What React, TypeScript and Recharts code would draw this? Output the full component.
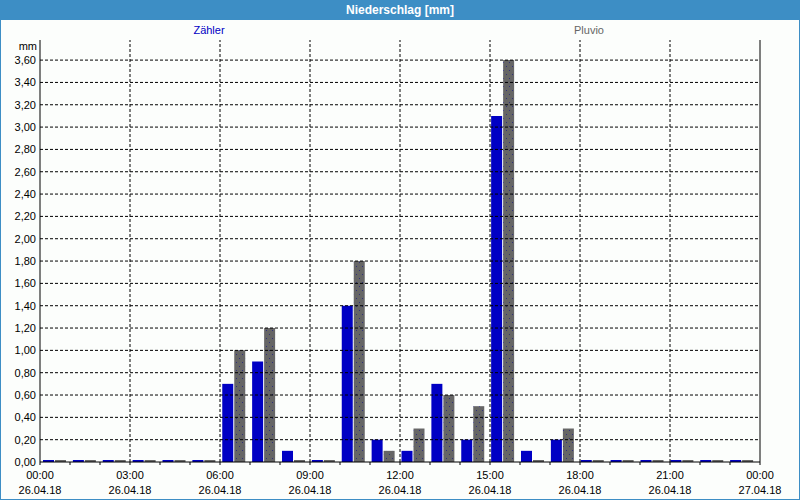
import * as React from 'react';
import { BarChart, Bar, XAxis, YAxis, ReferenceLine } from 'recharts';

// hourly precipitation, 26.04.18 00:00 .. 27.04.18 00:00
const hours = [0, 1, 2, 3, 4, 5, 6, 7, 8, 9, 10, 11, 12, 13, 14, 15, 16, 17, 18, 19, 20, 21, 22, 23];
const zaehler = [0, 0, 0, 0, 0, 0, 0.7, 0.9, 0.1, 0, 1.4, 0.2, 0.1, 0.7, 0.2, 3.1, 0.1, 0.2, 0, 0, 0, 0, 0, 0];
const pluvio = [0, 0, 0, 0, 0, 0, 1.0, 1.2, 0, 0, 1.8, 0.1, 0.3, 0.6, 0.5, 3.6, 0, 0.3, 0, 0, 0, 0, 0, 0];

const yTicks = [0, 0.2, 0.4, 0.6, 0.8, 1.0, 1.2, 1.4, 1.6, 1.8, 2.0, 2.2, 2.4, 2.6, 2.8, 3.0, 3.2, 3.4, 3.6];
const hourTicks = [0, 1, 2, 3, 4, 5, 6, 7, 8, 9, 10, 11, 12, 13, 14, 15, 16, 17, 18, 19, 20, 21, 22, 23, 24];
const timeLabels = ['00:00', '03:00', '06:00', '09:00', '12:00', '15:00', '18:00', '21:00', '00:00'];
const dateLabels = ['26.04.18', '26.04.18', '26.04.18', '26.04.18', '26.04.18', '26.04.18', '26.04.18', '26.04.18', '27.04.18'];

const data = hours.map((h, i) => ({ hour: h, zaehler: zaehler[i], pluvio: pluvio[i] }));
const gridHours = hourTicks.filter((h) => h % 3 === 0 && h > 0 && h < 24);
const gridValues = yTicks.filter((v) => v > 0);

const FONT = '"Liberation Sans", Arial, sans-serif';
const BLUE = '#0000c4';
const GRAY = '#666666';
const FRAME = '#3d8ec5';
const DASH = '3 2';

function TimeTick(props: any) {
  const { x, y, payload } = props;
  const v = payload.value;
  if (v % 3 !== 0) return <g />;
  const i = v / 3;
  return (
    <text x={x} y={y} textAnchor="middle" fontSize={11} fontFamily={FONT} fill="#000">
      <tspan x={x} dy={12}>{timeLabels[i]}</tspan>
      <tspan x={x} dy={15}>{dateLabels[i]}</tspan>
    </text>
  );
}

const fmt = (v: number) => v.toFixed(2).replace('.', ',');

export default function App() {
  return (
    <div
      style={{
        position: 'absolute',
        left: 0,
        top: 0,
        width: 800,
        height: 500,
        boxSizing: 'border-box',
        border: `1px solid ${FRAME}`,
        background: '#fcfefc',
        fontFamily: FONT,
      }}
    >
      <div
        style={{
          position: 'absolute',
          left: 0,
          top: 0,
          width: 798,
          height: 19,
          background: FRAME,
          color: '#fff',
          fontWeight: 'bold',
          fontSize: 12,
          lineHeight: '19px',
          textAlign: 'center',
        }}
      >
        Niederschlag [mm]
      </div>
      <div style={{ position: 'absolute', left: 178, top: 23, width: 60, textAlign: 'center', fontSize: 11, color: BLUE }}>
        Zähler
      </div>
      <div style={{ position: 'absolute', left: 558, top: 23, width: 60, textAlign: 'center', fontSize: 11, color: GRAY }}>
        Pluvio
      </div>
      <div style={{ position: 'absolute', left: 0, top: 39, width: 36, textAlign: 'right', fontSize: 11, color: '#000' }}>
        mm
      </div>
      <div style={{ position: 'absolute', left: 0, top: 0 }}>
        <BarChart
          width={798}
          height={498}
          data={data}
          margin={{ top: 39, right: 0, bottom: 0, left: 0 }}
          barSize={11}
          barGap={1}
        >
          <defs>
            <pattern id="dots" width={6} height={8} patternUnits="userSpaceOnUse">
              <rect width={6} height={8} fill={GRAY} />
              <rect x={1} y={1} width={1} height={1} fill="#30307a" />
              <rect x={4} y={5} width={1} height={1} fill="#30307a" />
            </pattern>
          </defs>
          <XAxis xAxisId="cat" dataKey="hour" type="category" hide height={0} padding={{ left: 0, right: 3 }} />
          <XAxis
            xAxisId="t"
            dataKey="hour"
            type="number"
            domain={[0, 24]}
            ticks={hourTicks}
            interval={0}
            tick={<TimeTick />}
            tickSize={3}
            tickMargin={2}
            height={37}
            stroke="#000"
          />
          <XAxis
            xAxisId="top"
            orientation="top"
            dataKey="hour"
            type="number"
            domain={[0, 24]}
            tick={false}
            tickLine={false}
            height={0}
            stroke="#000"
          />
          <YAxis
            domain={[0, 3.78]}
            ticks={yTicks}
            interval={0}
            tickFormatter={fmt}
            tickLine={false}
            tickSize={2}
            tickMargin={2}
            width={39}
            stroke="#000"
            tick={{ fontSize: 11, fontFamily: FONT, fill: '#000' }}
            allowDataOverflow
          />
          <YAxis
            yAxisId="r"
            orientation="right"
            domain={[0, 3.78]}
            tick={false}
            tickLine={false}
            width={39}
            stroke="#000"
          />
          {gridValues.map((v) => (
            <ReferenceLine key={'y' + v} xAxisId="t" y={v} stroke="#000" strokeDasharray={DASH} />
          ))}
          {gridHours.map((h) => (
            <ReferenceLine key={'x' + h} xAxisId="t" x={h} stroke="#000" strokeDasharray={DASH} />
          ))}
          <Bar xAxisId="cat" dataKey="zaehler" fill={BLUE} minPointSize={2} isAnimationActive={false} />
          <Bar xAxisId="cat" dataKey="pluvio" fill="url(#dots)" minPointSize={2} isAnimationActive={false} />
        </BarChart>
      </div>
    </div>
  );
}
